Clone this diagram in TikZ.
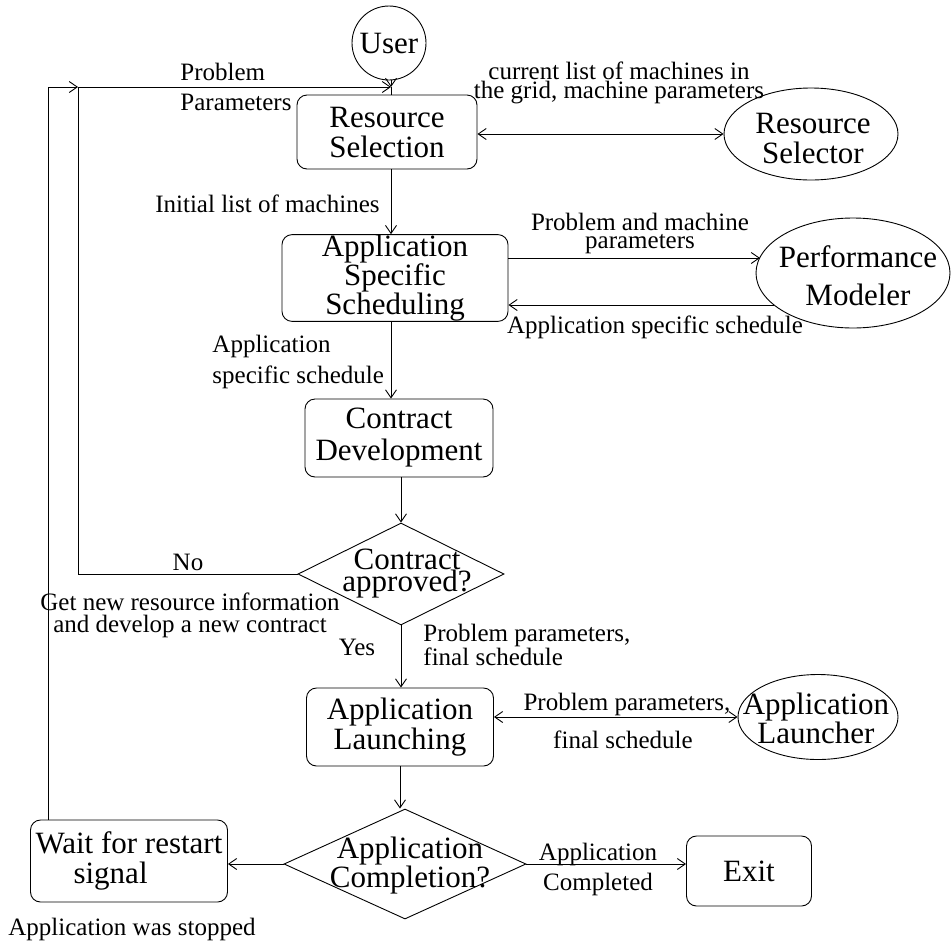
\documentclass[tikz,border=0pt]{standalone}
\usepackage{fontspec}
\setmainfont{Liberation Serif}
\usetikzlibrary{shapes.geometric,arrows.meta,calc}
\begin{document}
\begin{tikzpicture}[x=1pt,y=-1pt,
  line width=0.9pt,
  big/.style={align=center, inner sep=0pt},
  lbl/.style={font=\fontsize{25}{25}\selectfont, inner sep=0pt},
  box/.style={draw, rounded corners=10pt, inner sep=0pt, align=center},
  oval/.style={draw, ellipse, inner sep=0pt},
  dia/.style={draw, diamond, inner sep=0pt},
  arr/.style={-{Straight Barb[length=8pt,width=11pt]}},
  darr/.style={{Straight Barb[length=8pt,width=11pt]}-{Straight Barb[length=8pt,width=11pt]}},
]
\useasboundingbox (0,0) rectangle (951,943);

% coordinates of junctions
\coordinate (j1) at (391,87);
\coordinate (j2) at (78,87);
\coordinate (j3) at (48,87);

% main nodes
\node[circle, draw, minimum size=74pt, inner sep=0pt, font=\fontsize{31}{31}\selectfont] (user) at (389,43) {User};
\node[box, minimum width=180pt, minimum height=74pt, font=\fontsize{31}{30}\selectfont] (rs) at (387,132) {Resource\\Selection};
\node[oval, minimum width=174pt, minimum height=92pt] (rsel) at (811,134) {};
\node[big, font=\fontsize{31}{30}\selectfont] (rselt) at (813,138) {Resource\\Selector};

\node[box, minimum width=226pt, minimum height=86pt, font=\fontsize{31}{22.5}\selectfont] (ass) at (395,278) {Application\\Specific\\Scheduling};
\node[oval, minimum width=194pt, minimum height=110pt] (pm) at (853,273) {};
\node[big, font=\fontsize{31}{38}\selectfont] (pmt) at (858,276) {Performance\\Modeler};

\node[box, minimum width=188pt, minimum height=78pt, font=\fontsize{31}{32}\selectfont] (cd) at (399,438) {Contract\\Development};

\node[dia, minimum width=206pt, minimum height=102pt] (ca) at (401,574) {};
\node[big, font=\fontsize{31}{22}\selectfont] (cat) at (407,574) {Contract\\approved?};

\node[box, minimum width=187pt, minimum height=78pt, font=\fontsize{31}{30}\selectfont] (al) at (400,727) {Application\\Launching};
\node[oval, minimum width=160pt, minimum height=85pt] (alr) at (818,717) {};
\node[big, font=\fontsize{31}{22}\selectfont] (alrt) at (816,718) {Application\\Launcher};

\node[dia, minimum width=242pt, minimum height=110pt] (acomp) at (405,864) {};
\node[big, font=\fontsize{31}{29}\selectfont] (acompt) at (410,866) {Application\\Completion?};

\node[box, minimum width=197pt, minimum height=82pt, align=left, font=\fontsize{31}{30}\selectfont] (wait) at (129,861) {Wait for restart\\\hspace*{38pt}signal};
\node[box, minimum width=125pt, minimum height=70pt, font=\fontsize{31}{30}\selectfont] (exit) at (749,871) {Exit};

% labels
\node[lbl, align=left, anchor=west, font=\fontsize{25}{30}\selectfont] (lpp) at (180,87) {Problem\\Parameters};
\node[lbl, align=center, font=\fontsize{25}{17}\selectfont] (lcur) at (619,83) {current list of machines in\\the grid, machine parameters};
\node[lbl, anchor=base east] (linit) at (380,212) {Initial list of machines};
\node[lbl, align=center, font=\fontsize{25}{18}\selectfont] (lpm) at (640,233) {Problem and machine\\parameters};
\node[lbl, anchor=base] (lass) at (655,333) {Application specific schedule};
\node[lbl, align=left, anchor=west, font=\fontsize{25}{31}\selectfont] (lass2) at (212,362) {Application\\specific schedule};
\node[lbl, anchor=base] (lno) at (188,570) {No};
\node[lbl, align=center, font=\fontsize{25}{22}\selectfont] (lget) at (190,615) {Get new resource information\\and develop a new contract};
\node[lbl, anchor=base] (lyes) at (357,655) {Yes};
\node[lbl, align=left, anchor=west, font=\fontsize{25}{20}\selectfont] (lpf) at (423,645) {Problem parameters,\\final schedule};
\node[lbl, anchor=base] (lpp2) at (627,710) {Problem parameters,};
\node[lbl, anchor=base] (lfs2) at (623,748) {final schedule};
\node[lbl, anchor=base] (lac1) at (598,860) {Application};
\node[lbl, anchor=base] (lac2) at (598,890) {Completed};
\node[lbl, anchor=base] (lstop) at (132,935) {Application was stopped};

% connectors
\draw[arr] (user.south -| j1) -- (j1);
\draw (j1) -- (rs.north -| j1);
\draw[arr] (j2) -- (j1);
\draw[arr] (rs.south -| j1) -- (ass.north -| j1);
\draw[darr] (rs.east |- rsel.west) -- (rsel.west);
\draw[arr] ([yshift=20pt]ass.east) -- ($(pm.center)+(-93,-15)$);
\draw[arr] ($(pm.center)+(-79,32)$) -- ([yshift=-27pt]ass.east);
\draw[arr] (ass.south -| j1) -- (cd.north -| j1);
\draw[arr] (cd.south -| ca.north) -- (ca.north);
\draw (ca.west) -| (j2);
\draw[arr] (wait.north -| j3) -- (j3) -- (j2);
\draw[arr] (ca.south) -- (ca.south |- al.north);
\draw[darr] (al.east |- alr.west) -- (alr.west);
\draw[arr] (al.south) -- (al.south |- acomp.north);
\draw[arr] (acomp.west) -- (acomp.west -| wait.east);
\draw[arr] (acomp.east) -- (acomp.east -| exit.west);
\end{tikzpicture}
\end{document}
